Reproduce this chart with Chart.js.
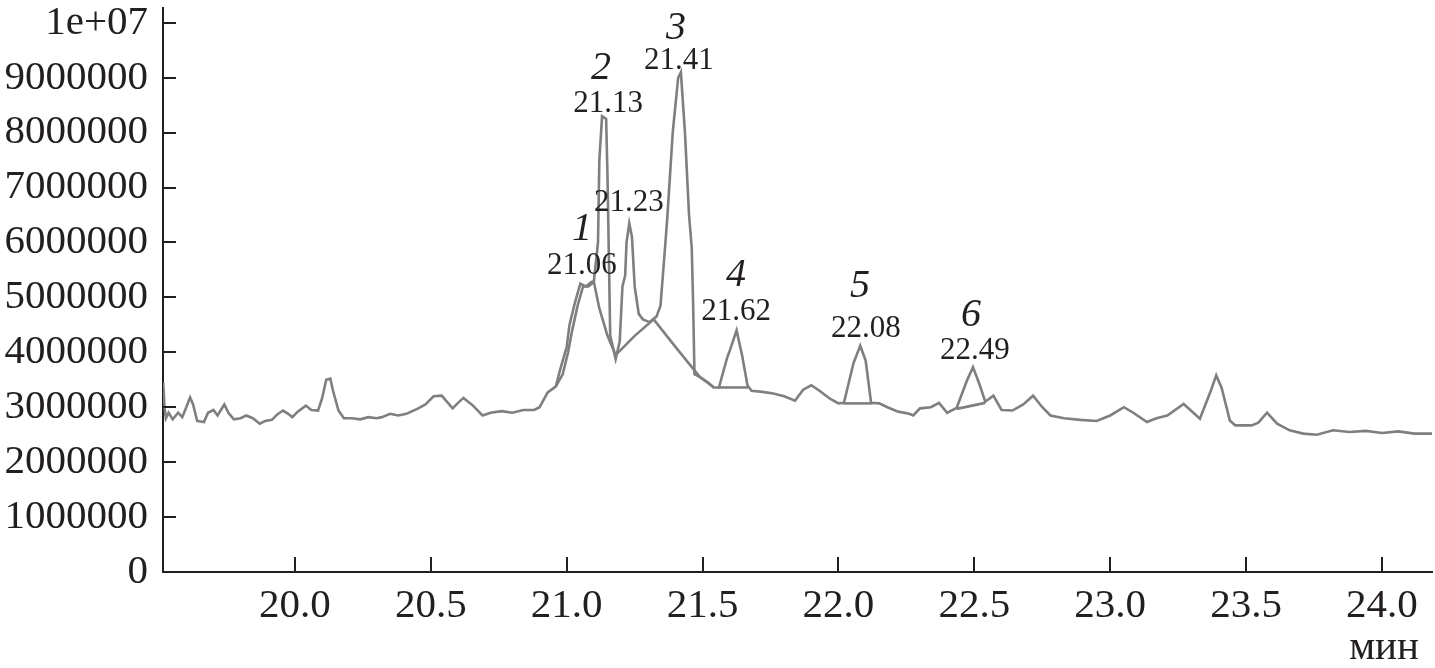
<!DOCTYPE html>
<html><head><meta charset="utf-8">
<script src="https://cdn.jsdelivr.net/npm/chart.js@4.4.0/dist/chart.umd.min.js"></script>
<style>html,body{margin:0;padding:0;background:#fff;}canvas{display:block;}</style>
</head><body>
<canvas id="c" width="1435" height="668"></canvas>
<script>
// ---- data (time, min ; intensity, millions of counts) ----
const timeMin = [
 19.515,19.52,19.525,19.535,19.55,19.57,19.585,19.60,19.614,19.625,
 19.64,19.665,19.68,19.70,19.715,19.74,19.755,19.775,19.80,19.82,
 19.845,19.87,19.89,19.915,19.935,19.956,19.975,19.99,20.01,20.04,
 20.06,20.085,20.10,20.115,20.13,20.14,20.16,20.18,20.21,20.24,
 20.27,20.30,20.32,20.35,20.38,20.41,20.45,20.48,20.51,20.54,
 20.58,20.60,20.62,20.655,20.69,20.72,20.76,20.80,20.84,20.88,
 20.90,20.93,20.96,20.975,21.0,21.01,21.03,21.05,21.07,21.09,
 21.10,21.115,21.12,21.13,21.145,21.15,21.16,21.18,21.195,21.205,
 21.215,21.22,21.23,21.24,21.25,21.265,21.28,21.305,21.33,21.345,
 21.36,21.37,21.39,21.41,21.42,21.435,21.45,21.46,21.465,21.47,
 21.49,21.52,21.54,21.56,21.59,21.60,21.625,21.645,21.665,21.68,
 21.72,21.76,21.80,21.84,21.87,21.90,21.93,21.97,22.0,22.02,
 22.055,22.08,22.10,22.12,22.15,22.18,22.22,22.26,22.275,22.30,
 22.34,22.37,22.40,22.435,22.473,22.495,22.52,22.54,22.57,22.60,
 22.64,22.68,22.716,22.75,22.78,22.83,22.89,22.95,23.0,23.05,
 23.085,23.135,23.17,23.21,23.27,23.306,23.33,23.37,23.39,23.41,
 23.44,23.46,23.52,23.545,23.577,23.614,23.66,23.71,23.76,23.82,
 23.88,23.94,24.0,24.06,24.12,24.184
];
const intensity = [
 3.45,3.0,2.8,2.9,2.78,2.9,2.82,3.0,3.18,3.05,
 2.75,2.73,2.9,2.95,2.85,3.05,2.9,2.78,2.8,2.85,
 2.8,2.7,2.75,2.77,2.87,2.94,2.88,2.82,2.92,3.03,
 2.95,2.94,3.17,3.5,3.52,3.3,2.94,2.8,2.8,2.78,
 2.82,2.8,2.82,2.88,2.85,2.88,2.97,3.05,3.2,3.21,
 2.98,3.08,3.17,3.03,2.85,2.9,2.93,2.9,2.95,2.95,
 3.0,3.27,3.38,3.67,4.1,4.5,4.9,5.25,5.2,5.28,
 5.3,6.0,7.5,8.3,8.25,7.2,4.3,3.88,4.2,5.2,
 5.4,6.0,6.35,6.1,5.2,4.7,4.6,4.55,4.65,4.85,
 5.8,6.45,8.0,9.0,9.1,8.0,6.5,5.9,4.9,3.6,
 3.55,3.45,3.36,3.36,3.9,4.03,4.4,3.95,3.4,3.3,
 3.28,3.25,3.2,3.12,3.32,3.4,3.3,3.15,3.07,3.08,
 3.8,4.12,3.85,3.08,3.07,3.0,2.92,2.88,2.85,2.98,
 3.0,3.08,2.9,2.99,3.49,3.73,3.4,3.1,3.21,2.95,
 2.94,3.05,3.21,3.0,2.85,2.8,2.77,2.75,2.85,3.0,
 2.9,2.73,2.8,2.85,3.06,2.9,2.79,3.3,3.58,3.35,
 2.76,2.67,2.67,2.72,2.9,2.7,2.58,2.52,2.5,2.58,
 2.55,2.57,2.53,2.56,2.52,2.52
];
// second trace / skim line under the main cluster
const overlayTime = [20.96,20.985,21.005,21.02,21.04,21.06,21.08,21.10,21.12,21.15,21.18,21.25,21.32,21.40,21.49,21.54];
const overlayInt  = [3.38,3.6,4.0,4.4,4.85,5.2,5.2,5.28,4.8,4.3,3.95,4.3,4.6,4.1,3.55,3.37];
// integration baselines
const base4Time = [21.557,21.667], base4Int = [3.36,3.36];
const base5Time = [22.017,22.125], base5Int = [3.07,3.07];
const base6Time = [22.435,22.54],  base6Int = [2.97,3.08];

const xTickValues = [20.0,20.5,21.0,21.5,22.0,22.5,23.0,23.5,24.0];
const xTickLabels = ['20.0','20.5','21.0','21.5','22.0','22.5','23.0','23.5','24.0'];
const yTickValues = [0,1,2,3,4,5,6,7,8,9,10];
const yTickLabels = ['0','1000000','2000000','3000000','4000000','5000000','6000000','7000000','8000000','9000000','1e+07'];
const xUnit = 'мин';

// peak annotations (text, italic?, anchor time, anchor intensity)
const annotText   = ['1','21.06','2','21.13','21.23','3','21.41','4','21.62','5','22.08','6','22.49'];
const annotItalic = [true,false,true,false,false,true,false,true,false,true,false,true,false];
const annotTime   = [21.056,21.056,21.126,21.152,21.229,21.402,21.413,21.623,21.623,22.079,22.101,22.488,22.502];
const annotInt    = [6.24,5.57,9.17,8.52,6.73,9.90,9.30,5.40,4.74,5.19,4.42,4.68,4.02];

// ---- drawing ----
const INK = '#231f20', TRACE = '#7f7f7f';
const SERIF = '"Liberation Serif","Times New Roman",serif';
const pts = (xs, ys) => xs.map((x, i) => ({x, y: ys[i]}));
const lineDs = (xs, ys) => ({data: pts(xs, ys), borderColor: TRACE, borderWidth: 2.6, pointRadius: 0, tension: 0, fill: false});

const extras = {
  id: 'extras',
  afterDraw(chart) {
    const {ctx, scales: {x, y}, chartArea: a} = chart;
    ctx.save();
    ctx.strokeStyle = INK; ctx.lineWidth = 2;
    y.ticks.forEach(t => { const py = Math.round(y.getPixelForValue(t.value)); ctx.beginPath(); ctx.moveTo(a.left, py); ctx.lineTo(a.left + 13, py); ctx.stroke(); });
    x.ticks.forEach(t => { const px = Math.round(x.getPixelForValue(t.value)); ctx.beginPath(); ctx.moveTo(px, a.bottom); ctx.lineTo(px, a.bottom - 15); ctx.stroke(); });
    ctx.fillStyle = INK; ctx.textBaseline = 'middle';
    ctx.font = '41px ' + SERIF; ctx.textAlign = 'right';
    ctx.fillText(xUnit, a.right - 13, a.bottom + 76);
    ctx.textAlign = 'center';
    annotText.forEach((s, i) => {
      ctx.font = annotItalic[i] ? 'italic 40px ' + SERIF : '31px ' + SERIF;
      ctx.fillText(s, x.getPixelForValue(annotTime[i]), y.getPixelForValue(annotInt[i]));
    });
    ctx.restore();
  }
};

new Chart(document.getElementById('c'), {
  type: 'line',
  data: { datasets: [
    lineDs(timeMin, intensity),
    lineDs(overlayTime, overlayInt),
    lineDs(base4Time, base4Int),
    lineDs(base5Time, base5Int),
    lineDs(base6Time, base6Int)
  ]},
  options: {
    responsive: false, animation: false, devicePixelRatio: 1,
    layout: { padding: { top: 8, right: 3, left: 0, bottom: 0 } },
    plugins: { legend: { display: false }, tooltip: { enabled: false } },
    scales: {
      x: {
        type: 'linear', min: 19.5143, max: 24.184,
        afterBuildTicks: s => { s.ticks = xTickValues.map(v => ({value: v})); },
        afterFit: s => { s.height = 96; s.paddingLeft = 0; s.paddingRight = 0; },
        grid: { display: false, drawTicks: false, tickLength: 0 },
        border: { display: true, color: INK, width: 2 },
        ticks: { color: INK, padding: 10, maxRotation: 0, autoSkip: false,
                 font: { family: SERIF, size: 41 },
                 callback: (v) => xTickLabels[xTickValues.indexOf(v)] ?? '' }
      },
      y: {
        type: 'linear', min: 0, max: 10.27,
        afterBuildTicks: s => { s.ticks = yTickValues.map(v => ({value: v})); },
        afterFit: s => { s.width = 163; s.paddingTop = 0; s.paddingBottom = 0; },
        grid: { display: false, drawTicks: false, tickLength: 0 },
        border: { display: true, color: INK, width: 2 },
        ticks: { color: INK, padding: 15, autoSkip: false,
                 font: { family: SERIF, size: 41 },
                 callback: (v) => yTickLabels[yTickValues.indexOf(v)] ?? '' }
      }
    }
  },
  plugins: [extras]
});
</script>
</body></html>
